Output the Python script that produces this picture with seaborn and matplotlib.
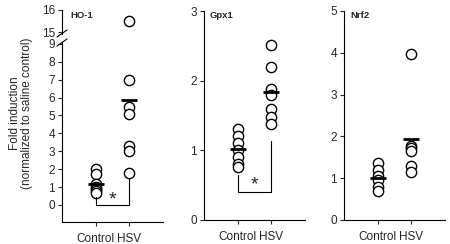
import pandas as pd
import seaborn as sns
import matplotlib.pyplot as plt
from matplotlib.lines import Line2D

# Data
groups = ["Control", "HSV"]
ho1_control = [2.0, 1.75, 1.15, 1.0, 0.9, 0.8, 0.65]
ho1_hsv = [15.5, 7.0, 5.45, 5.1, 3.3, 3.0, 1.8]
gpx1_control = [1.31, 1.21, 1.1, 1.0, 0.9, 0.81, 0.76]
gpx1_hsv = [2.51, 2.19, 1.88, 1.79, 1.6, 1.48, 1.38]
nrf2_control = [1.36, 1.2, 1.05, 0.96, 0.8, 0.7]
nrf2_hsv = [3.97, 1.78, 1.72, 1.66, 1.28, 1.16]

# significance brackets: (control top, base, HSV top, star height)
ho1_bracket = [0.45, 0.0, 1.5, 0.3]
gpx1_bracket = [0.64, 0.40, 1.14, 0.5]

sns.set_style("ticks")
plt.rcParams["font.family"] = ["Liberation Sans", "DejaVu Sans"]

W, H = 450, 244
fig = plt.figure(figsize=(4.5, 2.44), dpi=100)


def rect(l, r, t, b):
    return [l / W, 1 - b / H, (r - l) / W, (b - t) / H]


def make_df(c, h):
    return pd.DataFrame({"group": ["Control"] * len(c) + ["HSV"] * len(h),
                         "value": c + h})


def draw(ax, df):
    sns.stripplot(data=df, x="group", y="value", order=groups, jitter=False,
                  color="white", edgecolor="black", linewidth=1.0, size=7.4,
                  ax=ax, zorder=2)
    sns.pointplot(data=df, x="group", y="value", order=groups, errorbar=None,
                  marker="_", linestyle="none", color="black", markersize=11,
                  markeredgewidth=2, ax=ax, zorder=3)
    ax.set_xlim(-1, 2)
    ax.set_xlabel("")
    ax.set_ylabel("")
    sns.despine(ax=ax)
    for s in ["left", "bottom"]:
        ax.spines[s].set_linewidth(0.8)
        ax.spines[s].set_color("black")
    ax.tick_params(axis="y", length=3, width=0.8, pad=2, labelsize=8.5)
    ax.tick_params(axis="x", length=3, width=0.8, pad=5, labelsize=8.5)


def bracket(ax, b):
    ax.plot([0, 0, 1, 1], [b[0], b[1], b[1], b[2]], color="black", lw=0.8)
    ax.text(0.5, b[3], "*", ha="center", va="center", fontsize=14)


# HO-1 with broken axis
ho1 = make_df(ho1_control, ho1_hsv)
ax1b = fig.add_axes(rect(62, 163, 42, 222))
ax1t = fig.add_axes(rect(62, 163, 10, 34))
draw(ax1b, ho1)
draw(ax1t, ho1)
ax1b.set_ylim(-0.95, 9.1)
ax1b.set_yticks(range(0, 10))
ax1t.set_ylim(14.91, 16)
ax1t.set_yticks([15, 16])
ax1t.spines["bottom"].set_visible(False)
ax1t.tick_params(axis="x", bottom=False, labelbottom=False)
bracket(ax1b, ho1_bracket)

# break marks
for yc in (34, 43):
    fig.add_artist(Line2D([57 / W, 67 / W], [1 - (yc + 3) / H, 1 - (yc - 4) / H],
                          transform=fig.transFigure, color="black", lw=0.8))

# Gpx1
ax2 = fig.add_axes(rect(204, 305, 11, 220))
draw(ax2, make_df(gpx1_control, gpx1_hsv))
ax2.set_ylim(0, 3)
ax2.set_yticks([0, 1, 2, 3])
bracket(ax2, gpx1_bracket)

# Nrf2
ax3 = fig.add_axes(rect(344, 445, 11, 220))
draw(ax3, make_df(nrf2_control, nrf2_hsv))
ax3.set_ylim(0, 5)
ax3.set_yticks(range(0, 6))

# panel titles
for x, name in [(70, "HO-1"), (210, "Gpx1"), (350, "Nrf2")]:
    fig.text(x / W, 1 - 15 / H, name, fontsize=6.8, fontweight="bold",
             ha="left", va="center")

fig.text(21 / W, 1 - 113 / H, "Fold induction\n(normalized to saline control)",
         rotation=90, ha="center", va="center", fontsize=8.5, linespacing=1.1)

fig.savefig("out.png", dpi=100)
